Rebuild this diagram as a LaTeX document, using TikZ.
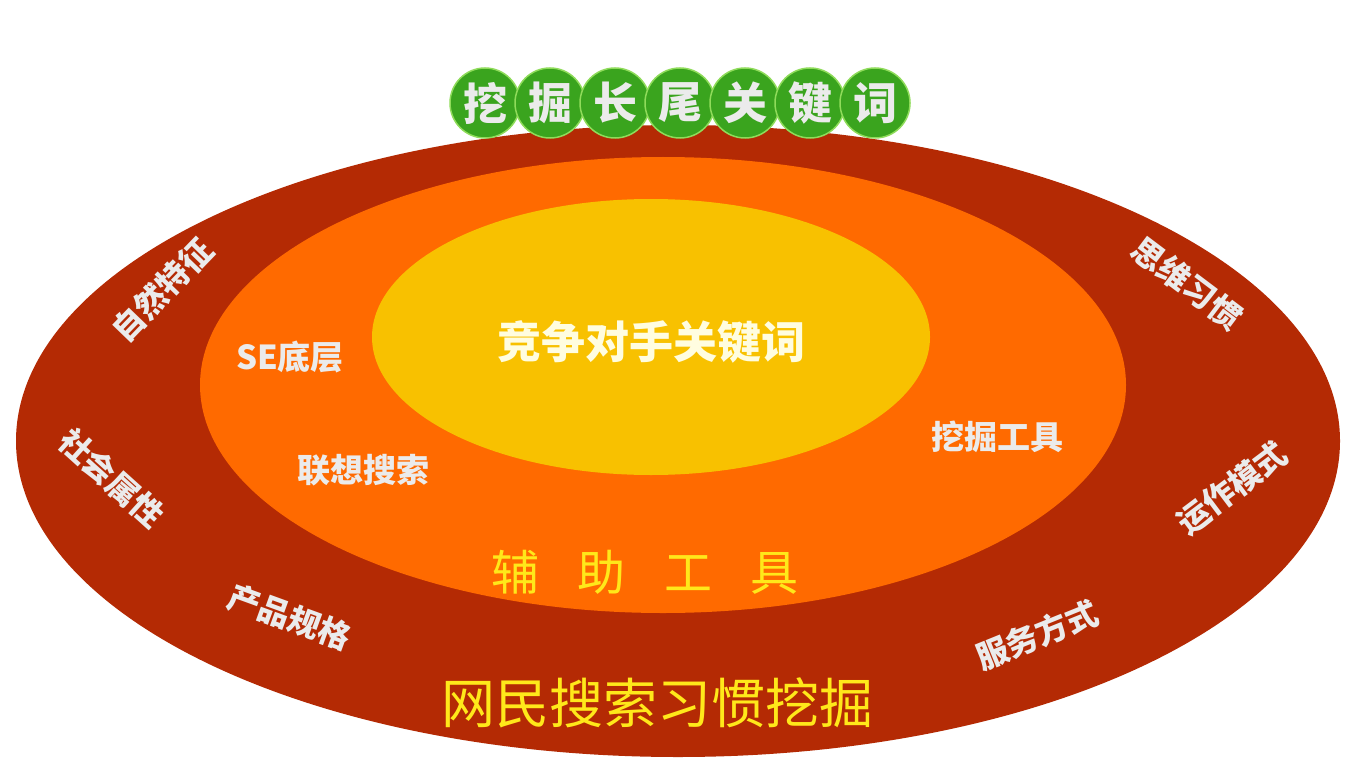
\documentclass[tikz,border=0pt]{standalone}
\usepackage{fontspec}
\newfontfamily\cjk{Noto Sans CJK SC}
\definecolor{outerred}{HTML}{B42A04}
\definecolor{midorange}{HTML}{FF6A00}
\definecolor{inneryellow}{HTML}{F8C100}
\definecolor{leafgreen}{HTML}{3AA41E}
\definecolor{leafedge}{HTML}{8FDC5A}
\definecolor{titleyellow}{HTML}{FFE81A}
\tikzset{
	ring/.style={text=white!92!black,inner sep=0pt,font=\cjk\bfseries\fontsize{32}{32}\selectfont},
	mid/.style={text=white!92!black,inner sep=0pt,font=\cjk\bfseries\fontsize{33}{33}\selectfont},
	core/.style={text=white!88!yellow,inner sep=0pt,font=\cjk\bfseries\fontsize{44}{44}\selectfont},
	title/.style={text=titleyellow,inner sep=0pt,font=\cjk\fontsize{48}{48}\selectfont},
	bead/.style={circle,fill=leafgreen,draw=leafedge,line width=1.5pt,minimum size=70pt,
		inner sep=0pt,text=white!92!black,font=\cjk\bfseries\fontsize{44}{44}\selectfont}
}
\begin{document}
\begin{tikzpicture}[x=1pt,y=-1pt]
		\fill[white] (0,0) rectangle (1356,778);
		\useasboundingbox (0,0) rectangle (1356,778);
		% rings
		\fill[outerred] (678,441) ellipse [x radius=662pt,y radius=316pt];
		\fill[midorange] (663,385) ellipse [x radius=463pt,y radius=228pt];
		\fill[inneryellow] (651,337) ellipse [x radius=279pt,y radius=138pt];
		% beads on top
		\foreach \ch [count=\i from 0] in {挖,掘,长,尾,关,键,词}
			\node[bead] (bead\i) at (485+65*\i,103) {\ch};
		\node[core] (rival) at (651,342) {竞争对手关键词};
		\node[mid] (se) at (290,357) {SE底层};
		\node[mid] (assoc) at (363,470) {联想搜索};
		\node[mid] (minetool) at (997,437) {挖掘工具};
		\node[title] (aux) at (645,572) {辅\hspace{0.8em}助\hspace{0.8em}工\hspace{0.8em}具};
		\node[title,font=\cjk\fontsize{54}{54}\selectfont] (habit) at (657,703) {网民搜索习惯挖掘};
		\node[ring,rotate=46] (nature) at (162,290) {自然特征};
		\node[ring,rotate=-42] (social) at (112,478) {社会属性};
		\node[ring,rotate=-20] (product) at (290,617) {产品规格};
		\node[ring,rotate=22] (service) at (1037,635) {服务方式};
		\node[ring,rotate=-37] (think) at (1187,283) {思维习惯};
		\node[ring,rotate=37] (operate) at (1232,488) {运作模式};
	\end{tikzpicture}
\end{document}
